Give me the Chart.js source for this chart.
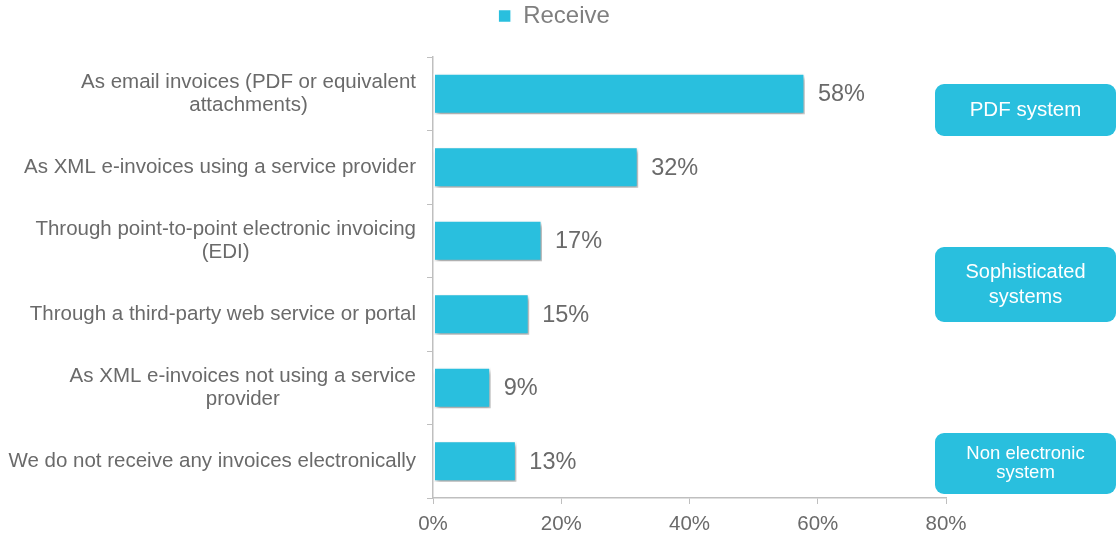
<!DOCTYPE html>
<html>
<head>
<meta charset="utf-8">
<script src="https://cdn.jsdelivr.net/npm/chart.js@4/dist/chart.umd.min.js"></script>
<style>
  html, body { margin: 0; padding: 0; background: #fff; }
  #wrap { width: 1118px; height: 535px; }
</style>
</head>
<body>
<div id="wrap"><canvas id="myChart"></canvas></div>
<script>
const categories = [
    ['As email invoices (PDF or equivalent', 'attachments)'],
    'As XML e-invoices using a service provider',
    ['Through point-to-point electronic invoicing', '(EDI)'],
    'Through a third-party web service or portal',
    ['As XML e-invoices not using a service', 'provider'],
    'We do not receive any invoices electronically'
];
const receiveValues = [58, 32, 17, 15, 9, 13];
const xTicks = [0, 20, 40, 60, 80];
const groupLabels = [['PDF system'], ['Sophisticated', 'systems'], ['Non electronic', 'system']];

const barColor = '#29BFDE';
const textGray = '#6A6A6A';
const axisGray = '#BFBFBF';
const fontFamily = '"Liberation Sans", Arial, sans-serif';

const ctx = document.getElementById('myChart');

// drop shadow under the bars
const barShadow = {
    id: 'barShadow',
    beforeDatasetsDraw(chart) {
        const c = chart.ctx;
        c.save();
        c.shadowColor = 'rgba(0,0,0,0.35)';
        c.shadowBlur = 4;
        c.shadowOffsetX = 2;
        c.shadowOffsetY = 3;
    },
    afterDatasetsDraw(chart) {
        chart.ctx.restore();
    }
};

// category labels: single lines right aligned, wrapped ones centred on themselves
const yLabels = {
    id: 'yLabels',
    afterDraw(chart) {
        const c = chart.ctx;
        const scale = chart.scales.y;
        const rightEdge = chart.chartArea.left - 17;
        c.save();
        c.font = '20.5px ' + fontFamily;
        c.fillStyle = textGray;
        c.textAlign = 'center';
        c.textBaseline = 'middle';
        categories.forEach((lab, i) => {
            const lines = Array.isArray(lab) ? lab : [lab];
            const maxW = Math.max(...lines.map(l => c.measureText(l).width));
            const cx = rightEdge - maxW / 2;
            const y = scale.getPixelForTick(i);
            const lh = 23;
            lines.forEach((l, j) => {
                c.fillText(l, cx, y + (j - (lines.length - 1) / 2) * lh);
            });
        });
        c.restore();
    }
};

// percentage next to each bar
const valueLabels = {
    id: 'valueLabels',
    afterDatasetsDraw(chart) {
        const c = chart.ctx;
        const meta = chart.getDatasetMeta(0);
        c.save();
        c.font = '23.5px ' + fontFamily;
        c.fillStyle = textGray;
        c.textAlign = 'left';
        c.textBaseline = 'middle';
        meta.data.forEach((bar, i) => {
            c.fillText(receiveValues[i] + '%', bar.x + 13, bar.y + 1);
        });
        c.restore();
    }
};

// rounded group boxes on the right
const groupBoxes = {
    id: 'groupBoxes',
    afterDraw(chart) {
        const c = chart.ctx;
        const boxes = [
            { top: 84, bottom: 136, lh: 22, size: 20.5 },
            { top: 247, bottom: 322, lh: 25, size: 20 },
            { top: 433, bottom: 494, lh: 19, size: 18.5 }
        ];
        const left = 935, right = 1116;
        c.save();
        boxes.forEach((b, i) => {
            c.fillStyle = barColor;
            c.beginPath();
            c.roundRect(left, b.top, right - left, b.bottom - b.top, 9);
            c.fill();
            c.fillStyle = '#ffffff';
            c.font = b.size + 'px ' + fontFamily;
            c.textAlign = 'center';
            c.textBaseline = 'middle';
            const lines = groupLabels[i];
            const cy = (b.top + b.bottom) / 2;
            lines.forEach((l, j) => {
                c.fillText(l, (left + right) / 2, cy + (j - (lines.length - 1) / 2) * b.lh);
            });
        });
        c.restore();
    }
};

// empty axes used only to reserve space above and to the right of the plot
const spacer = {
    display: true,
    ticks: { display: false },
    grid: { display: false },
    border: { display: false }
};

let chart = new Chart(ctx, {
    type: 'bar',
    data: {
        labels: categories,
        datasets: [{
            label: 'Receive',
            data: receiveValues,
            backgroundColor: barColor,
            borderColor: '#ffffff',
            borderWidth: 1.5,
            borderSkipped: false,
            categoryPercentage: 1,
            barPercentage: 0.56
        }]
    },
    options: {
        indexAxis: 'y',
        responsive: true,
        maintainAspectRatio: false,
        animation: false,
        layout: { padding: { top: 0, right: 10, bottom: 0, left: 0 } },
        plugins: {
            legend: {
                position: 'top',
                labels: {
                    boxWidth: 13,
                    boxHeight: 13,
                    color: '#7F7F7F',
                    font: { size: 24, family: fontFamily },
                    padding: 4
                }
            },
            tooltip: { enabled: false }
        },
        scales: {
            x: {
                min: 0,
                max: 80,
                afterBuildTicks(scale) {
                    scale.ticks = xTicks.map(v => ({ value: v }));
                },
                afterFit(scale) { scale.height = 37; },
                ticks: {
                    color: textGray,
                    font: { size: 20.5, family: fontFamily },
                    padding: 8,
                    callback: v => v + '%'
                },
                grid: { display: true, drawOnChartArea: false, color: axisGray, tickLength: 6 },
                border: { color: axisGray, width: 1.5 }
            },
            y: {
                afterFit(scale) { scale.width = 433; },
                ticks: { display: false },
                grid: { display: true, drawOnChartArea: false, color: axisGray, tickLength: 6, offset: true },
                border: { color: axisGray, width: 1.5 }
            },
            topGap: Object.assign({ type: 'linear', position: 'top', axis: 'x', afterFit(scale) { scale.height = 19; } }, spacer),
            rightGap: Object.assign({ type: 'linear', position: 'right', axis: 'y', afterFit(scale) { scale.width = 162; } }, spacer)
        }
    },
    plugins: [barShadow, valueLabels, yLabels, groupBoxes]
});
</script>
</body>
</html>
